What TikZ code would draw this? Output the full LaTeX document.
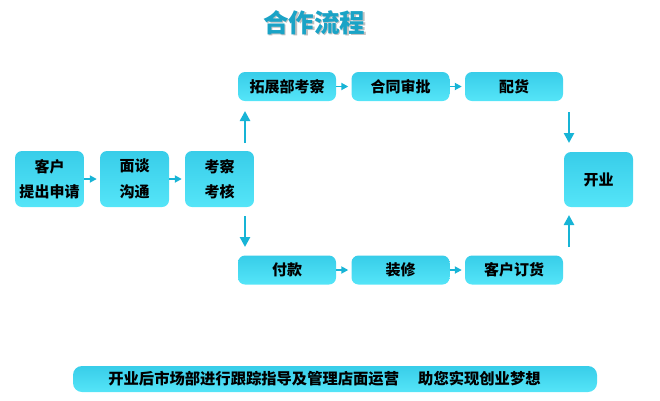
\documentclass[tikz,border=0pt]{standalone}
\usepackage{fontspec}
\setmainfont{Noto Sans CJK SC Bold}
\newfontfamily\cjkb{Noto Sans CJK SC Black}
\usetikzlibrary{arrows.meta,shadows}
\definecolor{boxtop}{HTML}{38CDE9}
\definecolor{boxbot}{HTML}{55E5F8}
\definecolor{arr}{HTML}{17B4D6}
\definecolor{ttl}{HTML}{1AA3C6}
\tikzset{
  x=1pt,y=-1pt,
  stepbox/.style={rounded corners=7pt,top color=boxtop,bottom color=boxbot,draw=none,
    font=\cjkb\fontsize{15}{25.5}\selectfont,text=black,align=center,inner sep=0pt},
  conn/.style={draw=arr,line width=1.8pt,shorten >=3pt,-{Triangle[length=7pt,width=7pt]}},
  vconn/.style={draw=arr,line width=2.6pt,-{Triangle[length=10pt,width=10pt]}},
}
\begin{document}
\begin{tikzpicture}
\useasboundingbox (0,0) rectangle (660,400);
% title
\node[font=\cjkb\fontsize{25.5}{28}\selectfont,text=black!45,opacity=0.55] at (315.5,24) {合作流程};
\node[font=\cjkb\fontsize{25.5}{28}\selectfont,text=ttl] (title) at (314,22.5) {合作流程};
% left boxes
\node[stepbox,minimum width=69pt,minimum height=56pt] (a) at (49.5,179) {客户\\提出申请};
\node[stepbox,minimum width=69pt,minimum height=56pt] (b) at (134.5,179) {面谈\\沟通};
\node[stepbox,minimum width=69pt,minimum height=56pt] (c) at (219.5,179) {考察\\考核};
% top row
\node[stepbox,minimum width=98pt,minimum height=29pt] (t1) at (287,86.5) {拓展部考察};
\node[stepbox,minimum width=98pt,minimum height=29pt] (t2) at (400.5,86.5) {合同审批};
\node[stepbox,minimum width=98pt,minimum height=29pt] (t3) at (514,86.5) {配货};
% bottom row
\node[stepbox,minimum width=98pt,minimum height=29pt] (b1) at (287,270) {付款};
\node[stepbox,minimum width=98pt,minimum height=29pt] (b2) at (400.5,270) {装修};
\node[stepbox,minimum width=98pt,minimum height=29pt] (b3) at (514,270) {客户订货};
% right
\node[stepbox,minimum width=69pt,minimum height=55pt] (k) at (598.5,179.5) {开业};
% bottom bar
\node[stepbox,rounded corners=9pt,minimum width=524pt,minimum height=26pt] (bar) at (335,379) {};
\node[font=\cjkb\fontsize{15.3}{18}\selectfont,inner sep=0pt] (bartext) at (324.5,379) {开业后市场部进行跟踪指导及管理店面运营\hspace{1.25em}助您实现创业梦想};
% coordinates for vertical arrows
\coordinate (u1s) at (245,143);
\coordinate (u1e) at (245,111);
\coordinate (d1s) at (245,216);
\coordinate (d1e) at (245,247);
\coordinate (d2s) at (569,112);
\coordinate (d2e) at (569,143);
\coordinate (u2s) at (569,247);
\coordinate (u2e) at (569,215);
% horizontal arrows
\draw[conn] (a.east) -- (b.west);
\draw[conn] (b.east) -- (c.west);
\draw[conn] (t1.east) -- (t2.west);
\draw[conn] (t2.east) -- (t3.west);
\draw[conn] (b1.east) -- (b2.west);
\draw[conn] (b2.east) -- (b3.west);
% vertical arrows
\draw[vconn] (u1s) -- (u1e);
\draw[vconn] (d1s) -- (d1e);
\draw[vconn] (d2s) -- (d2e);
\draw[vconn] (u2s) -- (u2e);
\end{tikzpicture}
\end{document}
